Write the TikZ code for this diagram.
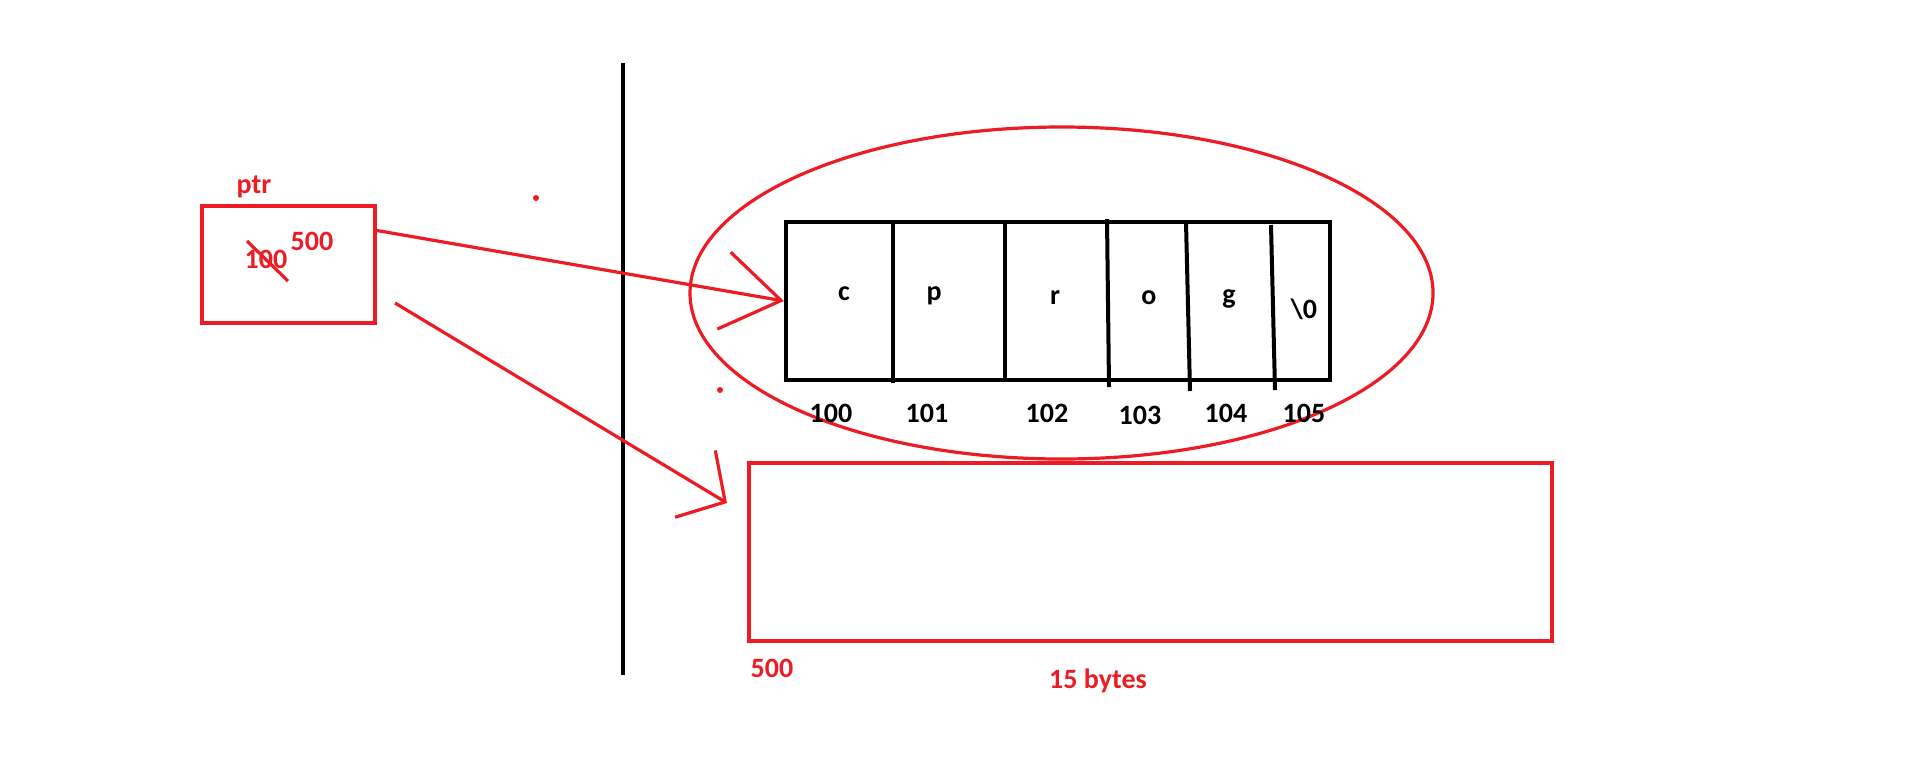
\documentclass[tikz,border=0pt]{standalone}
\usepackage{fontspec}
\setmainfont{Carlito}
\usepackage{xcolor}
\usepackage{tikz}
\usetikzlibrary{calc}
\usetikzlibrary{arrows.meta}
\usetikzlibrary{shapes.geometric}
\definecolor{paintred}{RGB}{237,28,36}
\tikzstyle{membox}=[draw=black, line width=2pt, shape=rectangle, inner sep=0pt]
\tikzstyle{redbox}=[draw=paintred, line width=2pt, shape=rectangle, inner sep=0pt]
\tikzstyle{redlbl}=[text=paintred, font=\bfseries\fontsize{14}{17}\selectfont, inner sep=0pt, anchor=base]
\tikzstyle{blklbl}=[text=black, font=\bfseries\fontsize{14}{17}\selectfont, inner sep=0pt, anchor=base]

\begin{document}
\begin{tikzpicture}[x=0.5pt, y=-0.5pt]
\useasboundingbox (0,0) rectangle (1910,772);
\node [redbox, minimum width=86.5pt, minimum height=58.5pt] (ptrbox) at (288.5,264.5) {};
\node [redlbl] (ptrname) at (254,193) {ptr};
\node [redlbl] (oldval) at (266,268) {100};
\node [redlbl] (newval) at (312,250) {500};

\node [draw=paintred, line width=1.6pt, shape=ellipse, inner sep=0pt, minimum width=371.5pt, minimum height=166pt] (strscope) at (1061.5,293) {};
\node [membox, minimum width=272pt, minimum height=79pt] (strarr) at (1058,301) {};
\node [blklbl] (cellc) at (844,300) {c};
\node [blklbl] (cellp) at (934,300) {p};
\node [blklbl] (cellr) at (1055,304) {r};
\node [blklbl] (cello) at (1149,304) {o};
\node [blklbl] (cellg) at (1229,303) {g};
\node [blklbl] (cellnul) at (1304,318) {\textbackslash 0};
\node [blklbl] (addr0) at (831,422) {100};
\node [blklbl] (addr1) at (927,422) {101};
\node [blklbl] (addr2) at (1047,422) {102};
\node [blklbl] (addr3) at (1140,424) {103};
\node [blklbl] (addr4) at (1226,422) {104};
\node [blklbl] (addr5) at (1304,422) {105};

\node [redbox, minimum width=401.5pt, minimum height=89pt] (heap) at (1150.5,552) {};
\node [redlbl] (heapaddr) at (772,677) {500};
\node [redlbl] (heapsize) at (1098,688) {15 bytes};

\coordinate (stacktop) at (623,63);
\coordinate (stackbot) at (623,675);
\coordinate (ptrout) at (395,303);
\coordinate (heapin) at (727,503);

\draw[line width=2pt, color=black] (stacktop) -- (stackbot);
\draw[line width=2pt, color=black] (893,222) -- (893,383);
\draw[line width=2pt, color=black] (1005,220) -- (1005,380);
\draw[line width=2pt, color=black] (1107,219) -- (1109,387);
\draw[line width=2pt, color=black] (1186,222) -- (1190,391);
\draw[line width=2pt, color=black] (1271,225) -- (1275,390);
\draw[line width=1.6pt, color=paintred] (247,241) -- (288,281);
\fill[paintred] (536,198) circle [radius=1.5pt];
\fill[paintred] (720,390) circle [radius=1.5pt];

\draw[-{Straight Barb[length=29pt, width=39pt]}, line width=1.6pt, color=paintred] (ptrbox.21) -- (strarr.west);
\draw[-{Straight Barb[length=17.5pt, width=39pt]}, line width=1.6pt, color=paintred] (ptrout) -- (heapin);
\end{tikzpicture}
\end{document}
